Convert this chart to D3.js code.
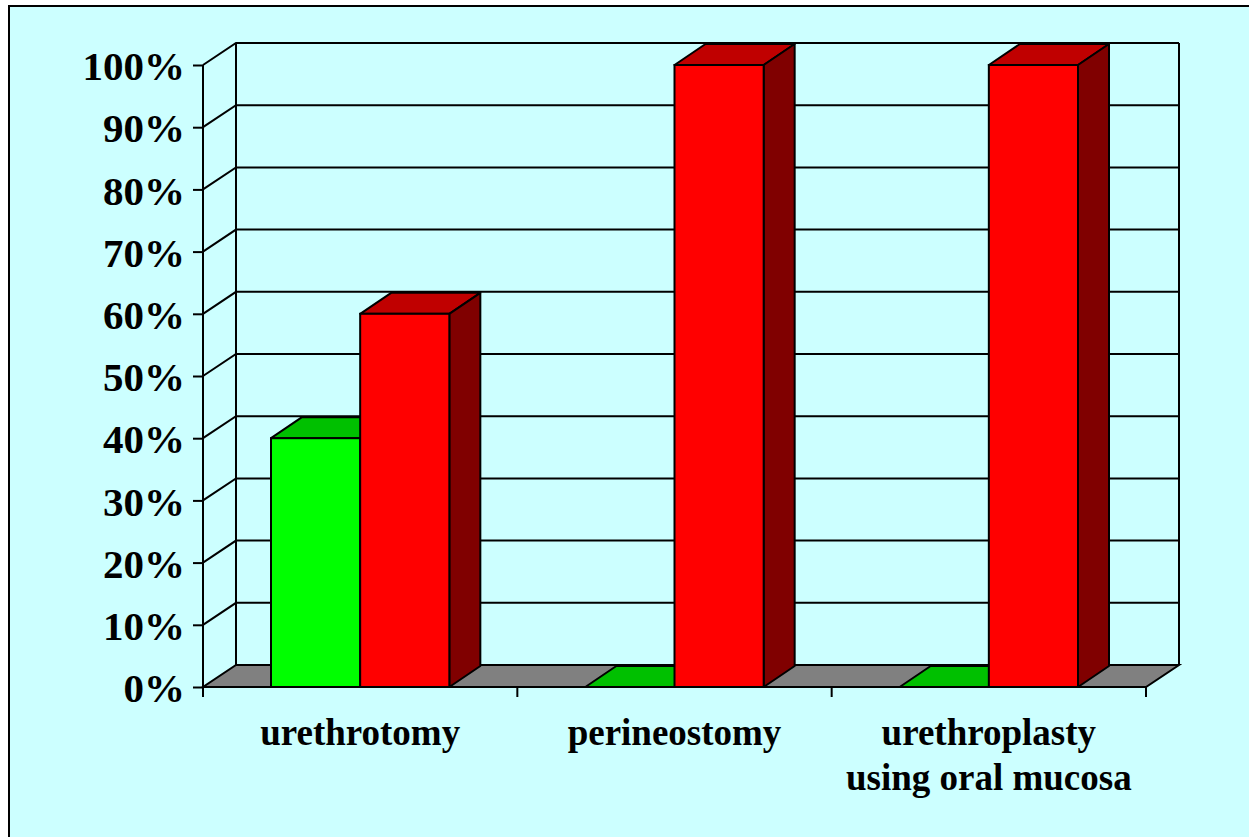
<!DOCTYPE html>
<html>
<head>
<meta charset="utf-8">
<script src="https://cdn.jsdelivr.net/npm/d3@7"></script>
<style>
  body { margin: 0; background: #fff; }
  svg { display: block; }
  .tick text { font-family: "Liberation Serif", "Times New Roman", serif; font-weight: bold; }
</style>
</head>
<body>
<div id="chart-area"></div>
<script>
// data
const categories = ["urethrotomy", "perineostomy", "urethroplasty using oral mucosa"]
const labelLines = [["urethrotomy"], ["perineostomy"], ["urethroplasty", "using oral mucosa"]]
const seriesNames = ["green", "red"]
const greenValues = [40, 0, 0]
const redValues = [60, 100, 100]
const yTicks = [0, 10, 20, 30, 40, 50, 60, 70, 80, 90, 100]

const W = 1249, H = 837
const depth = { dx: 33, dy: -22 }      // wall depth
const barDepth = { dx: 31, dy: -21 }   // bar depth

const colors = {
  green: { front: "#00ff00", top: "#00c000", side: "#008000" },
  red: { front: "#ff0000", top: "#c00000", side: "#800000" }
}

const svg = d3.select("#chart-area").append("svg")
  .attr("width", W)
  .attr("height", H)

// panel background + border (only top/left visible)
svg.append("rect")
  .attr("x", 9).attr("y", 6)
  .attr("width", W + 20).attr("height", H + 20)
  .attr("fill", "#ccffff")
  .attr("stroke", "#000")
  .attr("stroke-width", 2)

const x = d3.scaleBand()
  .domain(categories)
  .range([203, 1146])

const y = d3.scaleLinear()
  .domain([0, 100])
  .range([687, 65])

const xs = d3.scaleBand()
  .domain(seriesNames)
  .range([68, x.bandwidth() - 68])

const x0 = x.range()[0], x1 = x.range()[1]
const g = svg.append("g")

// floor
g.append("path")
  .attr("d", d3.line()([
    [x0, y(0)], [x1, y(0)], [x1 + depth.dx, y(0) + depth.dy], [x0 + depth.dx, y(0) + depth.dy]
  ]) + "Z")
  .attr("fill", "#808080")
  .attr("stroke", "#000")
  .attr("stroke-width", 2)

// back wall gridlines and side wall diagonals
g.selectAll(".grid")
  .data(yTicks.filter(d => d > 0))
  .enter().append("path")
  .attr("class", "grid")
  .attr("d", d => d3.line()([
    [x0, y(d)], [x0 + depth.dx, y(d) + depth.dy], [x1 + depth.dx, y(d) + depth.dy]
  ]))
  .attr("fill", "none")
  .attr("stroke", "#000")
  .attr("stroke-width", 2)

// back wall vertical edges
g.append("line")
  .attr("x1", x0 + depth.dx).attr("x2", x0 + depth.dx)
  .attr("y1", y(100) + depth.dy).attr("y2", y(0) + depth.dy)
  .attr("stroke", "#000").attr("stroke-width", 2)
g.append("line")
  .attr("x1", x1 + depth.dx).attr("x2", x1 + depth.dx)
  .attr("y1", y(100) + depth.dy).attr("y2", y(0) + depth.dy)
  .attr("stroke", "#000").attr("stroke-width", 2)

// bars
const barData = []
categories.forEach(function(c, i) {
  barData.push({ cat: c, s: "green", v: greenValues[i] })
  barData.push({ cat: c, s: "red", v: redValues[i] })
})

const bars = g.selectAll(".bar")
  .data(barData)
  .enter().append("g")
  .attr("class", "bar")

bars.each(function(d) {
  const sel = d3.select(this)
  const L = x(d.cat) + xs(d.s), R = L + xs.bandwidth()
  const T = y(d.v), B = y(0)
  const c = colors[d.s]
  const dx = barDepth.dx, dy = barDepth.dy
  // top
  sel.append("path")
    .attr("d", d3.line()([[L, T], [R, T], [R + dx, T + dy], [L + dx, T + dy]]) + "Z")
    .attr("fill", c.top).attr("stroke", "#000").attr("stroke-width", 2)
    .attr("stroke-linejoin", "round")
  if (d.v > 0) {
    // side
    sel.append("path")
      .attr("d", d3.line()([[R, T], [R + dx, T + dy], [R + dx, B + dy], [R, B]]) + "Z")
      .attr("fill", c.side).attr("stroke", "#000").attr("stroke-width", 2)
      .attr("stroke-linejoin", "round")
    // front
    sel.append("rect")
      .attr("x", L).attr("y", T)
      .attr("width", R - L).attr("height", B - T)
      .attr("fill", c.front).attr("stroke", "#000").attr("stroke-width", 2)
  }
})

// front floor edge
g.append("line")
  .attr("x1", x0).attr("x2", x1)
  .attr("y1", y(0)).attr("y2", y(0))
  .attr("stroke", "#000").attr("stroke-width", 2)

// y axis
const yAxisCall = d3.axisLeft(y)
  .tickValues(yTicks)
  .tickSize(10)
  .tickPadding(8)
  .tickFormat(d => d + "%")
const yAxis = g.append("g")
  .attr("class", "y-axis")
  .attr("transform", "translate(" + x0 + ",0)")
  .call(yAxisCall)
yAxis.select(".domain").remove()
yAxis.selectAll(".tick line").attr("stroke", "#000").attr("stroke-width", 2)
yAxis.selectAll(".tick text")
  .attr("font-size", "41px")
  .attr("fill", "#000")
  .attr("dy", "0.36em")

g.append("line")
  .attr("x1", x0).attr("x2", x0)
  .attr("y1", y(100)).attr("y2", y(0) + 10)
  .attr("stroke", "#000").attr("stroke-width", 2)

// category boundary ticks
const bounds = categories.map(c => x(c)).concat([x1])
g.selectAll(".xtick")
  .data(bounds)
  .enter().append("line")
  .attr("class", "xtick")
  .attr("x1", d => d).attr("x2", d => d)
  .attr("y1", y(0)).attr("y2", y(0) + 10)
  .attr("stroke", "#000").attr("stroke-width", 2)

// category labels
const labels = g.selectAll(".xlabel")
  .data(categories)
  .enter().append("text")
  .attr("class", "xlabel")
  .attr("text-anchor", "middle")
  .attr("font-family", "'Liberation Serif', 'Times New Roman', serif")
  .attr("font-weight", "bold")
  .attr("font-size", "37px")
  .attr("fill", "#000")

labels.each(function(d, i) {
  d3.select(this).selectAll("tspan")
    .data(labelLines[i])
    .enter().append("tspan")
    .attr("x", x(d) + x.bandwidth() / 2)
    .attr("y", (l, j) => 745 + j * 45)
    .text(l => l)
})
</script>
</body>
</html>
